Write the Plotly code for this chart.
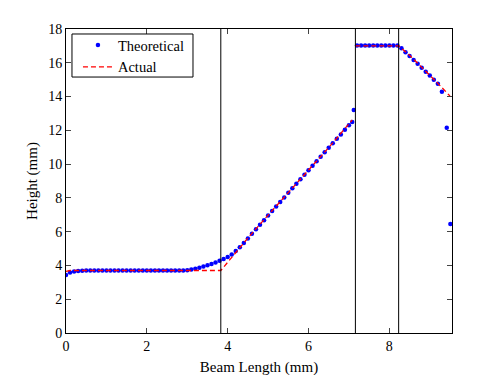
import plotly.graph_objects as go

# Theoretical (blue dots)
theo_x = [0.0, 0.1, 0.2, 0.3, 0.4, 0.5, 0.6, 0.7, 0.8, 0.9, 1.0, 1.1, 1.2, 1.3, 1.4,
          1.5, 1.6, 1.7, 1.8, 1.9, 2.0, 2.1, 2.2, 2.3, 2.4, 2.5, 2.6, 2.7, 2.8, 2.9,
          3.0, 3.1, 3.2, 3.3, 3.4, 3.5, 3.6, 3.7, 3.8,
          3.9, 4.0, 4.1, 4.2, 4.3, 4.4, 4.5, 4.6, 4.7, 4.8, 4.9, 5.0, 5.1, 5.2, 5.3,
          5.4, 5.5, 5.6, 5.7, 5.8, 5.9, 6.0, 6.1, 6.2, 6.3, 6.4, 6.5, 6.6, 6.7, 6.8,
          6.9, 7.0, 7.08, 7.12,
          7.2, 7.3, 7.4, 7.5, 7.6, 7.7, 7.8, 7.9, 8.0, 8.1, 8.2,
          8.3, 8.4, 8.5, 8.6, 8.7, 8.8, 8.9, 9.0, 9.1, 9.2, 9.3, 9.42, 9.51]
theo_y = [3.43, 3.58, 3.64, 3.67, 3.69, 3.70, 3.70, 3.70, 3.70, 3.70, 3.70, 3.70, 3.70, 3.70, 3.70,
          3.70, 3.70, 3.70, 3.70, 3.70, 3.70, 3.70, 3.70, 3.70, 3.70, 3.70, 3.70, 3.70, 3.70, 3.70,
          3.72, 3.76, 3.81, 3.87, 3.94, 4.01, 4.09, 4.18, 4.28,
          4.38, 4.50, 4.65, 4.85, 5.08, 5.33, 5.60, 5.87, 6.14, 6.41, 6.68, 6.95, 7.22, 7.49, 7.76,
          8.03, 8.30, 8.57, 8.84, 9.11, 9.37, 9.64, 9.90, 10.17, 10.44, 10.70, 10.97, 11.23, 11.50, 11.76,
          12.03, 12.30, 12.50, 13.20,
          17.02, 17.02, 17.02, 17.02, 17.02, 17.02, 17.02, 17.02, 17.02, 17.02, 17.02,
          16.86, 16.62, 16.40, 16.16, 15.94, 15.70, 15.47, 15.25, 15.00, 14.76, 14.28, 12.15, 6.45]

# Actual (red dashed)
act_x = [0.0, 0.1, 3.83, 3.95, 4.1, 4.3, 4.5, 5.0, 5.5, 6.0, 6.5, 7.08, None,
         7.16, 8.23, 8.5, 8.8, 9.0, 9.2, 9.5]
act_y = [3.65, 3.70, 3.70, 4.05, 4.50, 5.08, 5.62, 6.98, 8.32, 9.66, 10.98, 12.61, None,
         17.0, 17.0, 16.45, 15.75, 15.28, 14.78, 14.03]

# Section boundaries (vertical lines)
boundaries = [3.83, 7.16, 8.23]

x_ticks = [0, 2, 4, 6, 8]
y_ticks = [0, 2, 4, 6, 8, 10, 12, 14, 16, 18]

FONT = "Liberation Serif, Times New Roman, serif"

fig = go.Figure()
fig.add_trace(go.Scatter(x=theo_x, y=theo_y, mode="markers", name="Theoretical",
                         marker=dict(color="#0000ff", size=4.5, symbol="circle")))
fig.add_trace(go.Scatter(x=act_x, y=act_y, mode="lines", name="Actual",
                         line=dict(color="#ff0000", width=1.3, dash="5px,3px"),
                         connectgaps=False))

for b in boundaries:
    fig.add_shape(type="line", x0=b, x1=b, y0=0, y1=1, xref="x", yref="paper",
                  line=dict(color="black", width=1))

# legend frame (MATLAB-style box)
fig.add_shape(type="rect", xref="paper", yref="paper",
              x0=0.0155, x1=0.329, y0=0.842, y1=0.9836,
              line=dict(color="black", width=1), fillcolor="white", layer="above")

fig.update_layout(
    width=500, height=375,
    margin=dict(l=58, r=56, t=21, b=50),
    paper_bgcolor="white", plot_bgcolor="white",
    font=dict(family=FONT, size=14, color="black"),
    showlegend=True,
    legend=dict(x=0.031, y=1.0, xanchor="left", yanchor="top",
                bgcolor="rgba(0,0,0,0)", borderwidth=0,
                font=dict(family=FONT, size=14.5, color="black"),
                tracegroupgap=0),
    xaxis=dict(range=[0, 9.55], tickvals=x_ticks, ticks="inside", ticklen=5,
               showline=True, linecolor="black", linewidth=1, mirror="ticks",
               showgrid=False, zeroline=False,
               title=dict(text="Beam Length (mm)", standoff=8,
                          font=dict(family=FONT, size=15))),
    yaxis=dict(range=[0, 18], tickvals=y_ticks, ticks="inside", ticklen=5,
               showline=True, linecolor="black", linewidth=1, mirror="ticks",
               showgrid=False, zeroline=False,
               title=dict(text="Height (mm)", standoff=6,
                          font=dict(family=FONT, size=15))),
)

fig.write_html("out.html")
